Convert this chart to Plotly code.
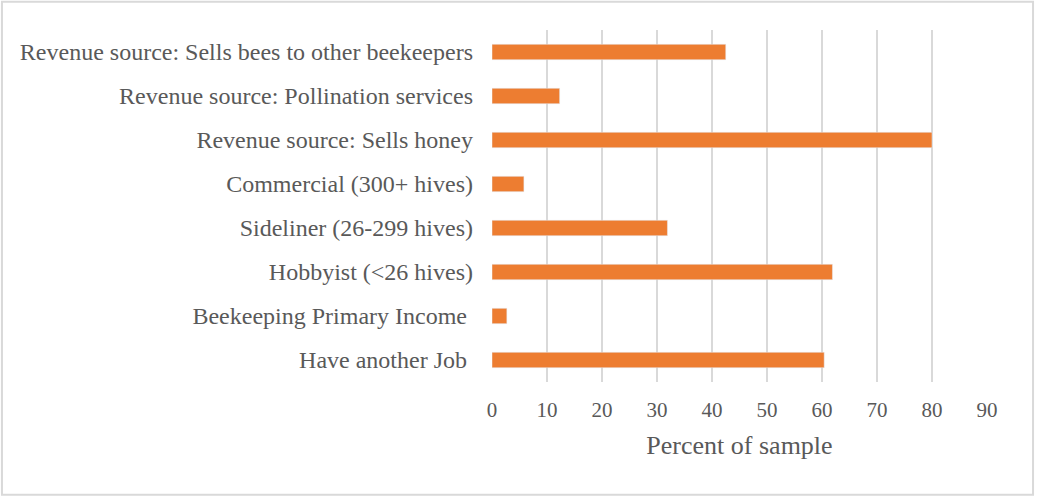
import plotly.graph_objects as go

categories = [
    "Have another Job ",
    "Beekeeping Primary Income ",
    "Hobbyist (<26 hives)",
    "Sideliner (26-299 hives)",
    "Commercial (300+ hives)",
    "Revenue source: Sells honey",
    "Revenue source: Pollination services",
    "Revenue source: Sells bees to other beekeepers",
]
percent = [60.4, 2.7, 61.9, 31.9, 5.8, 80.0, 12.3, 42.5]
x_ticks = list(range(0, 100, 10))

text_color = "#595959"
font_family = "Liberation Serif, Times New Roman, serif"

fig = go.Figure(
    go.Bar(
        x=percent,
        y=categories,
        orientation="h",
        marker=dict(color="#ED7D31"),
        width=0.35,
    )
)

fig.update_layout(
    width=1039,
    height=497,
    margin=dict(l=492, r=52, t=30, b=115),
    plot_bgcolor="white",
    paper_bgcolor="white",
    font=dict(family=font_family, color=text_color, size=24),
    showlegend=False,
)

fig.update_xaxes(
    range=[0, 90],
    tickvals=x_ticks,
    showgrid=True,
    gridcolor="#d9d9d9",
    gridwidth=1.5,
    zeroline=False,
    showline=False,
    ticks="",
    ticklabelstandoff=13,
    tickfont=dict(size=21),
    title=dict(text="Percent of sample", font=dict(size=26), standoff=14),
)
fig.update_yaxes(
    showgrid=False,
    showline=False,
    ticks="",
    ticklabelstandoff=18,
    tickfont=dict(size=24),
)

# light frame around the whole chart
fig.add_shape(
    type="rect",
    xref="paper",
    yref="paper",
    x0=-0.99,
    x1=1.093,
    y0=-0.32,
    y1=1.08,
    line=dict(color="#d9d9d9", width=2),
)

# page body has a default 8px margin; drop it so the figure fills the window
fig.write_html(
    "out.html",
    config={"displayModeBar": False},
    post_script="document.body.style.margin='0px';",
)
